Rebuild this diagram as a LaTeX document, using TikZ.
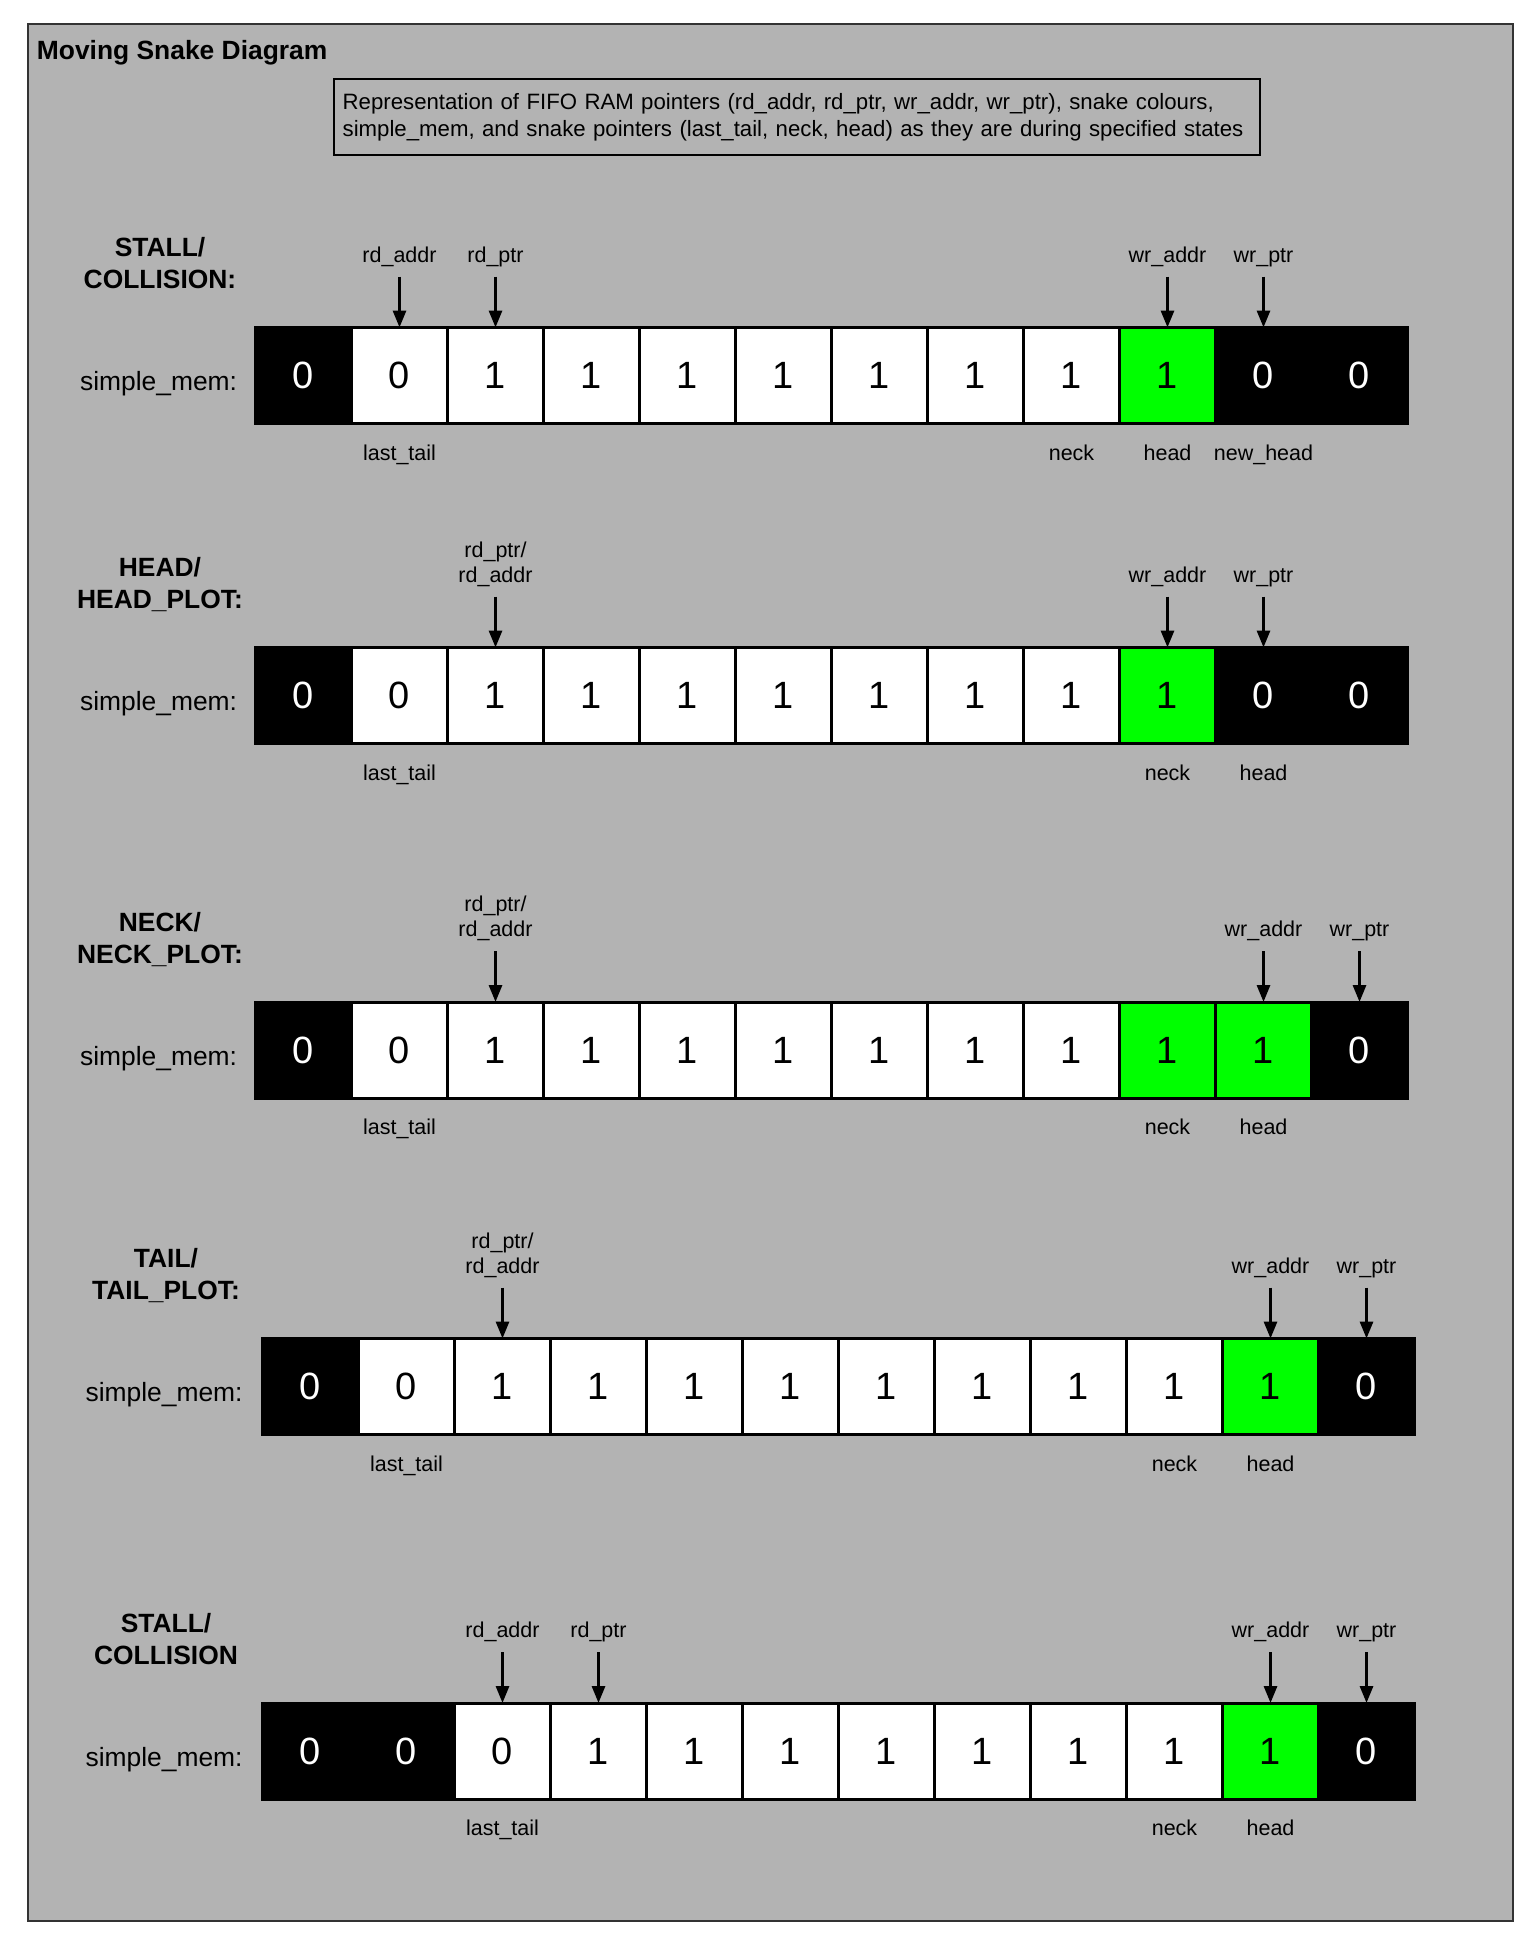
\documentclass[tikz,border=0pt]{standalone}
\usepackage{fontspec}
\setmainfont{Liberation Sans}
\usetikzlibrary{positioning, arrows.meta}

\definecolor{panelgray}{HTML}{B3B3B3}
\definecolor{snakegreen}{HTML}{00FF00}

\tikzset{
  cell/.style={draw=black, line width=1.5pt, minimum width=48pt, minimum height=48pt,
               inner sep=0pt, outer sep=0pt, font=\fontsize{19}{22}\selectfont},
  memfree/.style={cell, fill=black, text=white},
  memused/.style={cell, fill=white},
  memsnake/.style={cell, fill=snakegreen},
  ptrlbl/.style={font=\fontsize{10.75}{12.5}\selectfont, align=center,
                 inner xsep=0pt, inner ysep=5pt, outer sep=0pt},
  snakelbl/.style={font=\fontsize{10.75}{12.5}\selectfont,
                   inner xsep=0pt, inner ysep=5pt, outer sep=0pt},
  statename/.style={font=\bfseries\fontsize{13.2}{16.15}\selectfont, align=center,
                    inner sep=0pt, anchor=north},
  memname/.style={font=\fontsize{13.2}{16}\selectfont, inner sep=0pt, anchor=base east},
  ptrarrow/.style={-{Triangle[length=8.5pt, width=6.5pt]}, line width=1.5pt},
}

\begin{document}
\begin{tikzpicture}[x=0.5pt, y=-0.5pt]
\useasboundingbox (0, 0) rectangle (1534, 1959);

        % Panel, title and note
        \draw[black!80, fill=panelgray, line width=1pt] (28, 24) rectangle (1513, 1921);
        \node[font=\bfseries\fontsize{13.2}{16}\selectfont, inner sep=0pt, anchor=base west]
            at (36.5, 59.5) (title) {Moving Snake Diagram};
        \node[draw=black, line width=1pt, font=\fontsize{11.1}{13.85}\selectfont,
              minimum width=462.7pt, minimum height=37.85pt, text width=454.3pt,
              inner xsep=4.2pt, align=left] at (797, 117.2) (info)
            {\mbox{Representation of FIFO RAM pointers (rd\_addr, rd\_ptr, wr\_addr, wr\_ptr), snake colours,}\\
             \mbox{simple\_mem, and snake pointers (last\_tail, neck, head) as they are during specified states}};

        % STALL/COLLISION:
        \node[statename] at (160, 237)       (1state) {STALL/\\COLLISION:};
        \node[memname] at (237.5, 390.5)     (1mem)   {simple\_mem:};
        \node[memfree]  at (303.5, 375.5)    (1a)     {0};
        \node[memused]  at (399.5, 375.5)    (1b)     {0};
        \node[memused]  at (495.5, 375.5)    (1c)     {1};
        \node[memused]  at (591.5, 375.5)    (1d)     {1};
        \node[memused]  at (687.5, 375.5)    (1e)     {1};
        \node[memused]  at (783.5, 375.5)    (1f)     {1};
        \node[memused]  at (879.5, 375.5)    (1g)     {1};
        \node[memused]  at (975.5, 375.5)    (1h)     {1};
        \node[memused]  at (1071.5, 375.5)   (1i)     {1};
        \node[memsnake] at (1167.5, 375.5)   (1j)     {1};
        \node[memfree]  at (1263.5, 375.5)   (1k)     {0};
        \node[memfree]  at (1359.5, 375.5)   (1l)     {0};
        \node[ptrlbl, above=25.5pt of 1b]    (1rda)   {rd\_addr};
        \node[ptrlbl, above=25.5pt of 1c]    (1rdp)   {rd\_ptr};
        \node[ptrlbl, above=25.5pt of 1j]    (1wra)   {wr\_addr};
        \node[ptrlbl, above=25.5pt of 1k]    (1wrp)   {wr\_ptr};
        \node[snakelbl, below=5.5pt of 1b]   (1tail)  {last\_tail};
        \node[snakelbl, below=5.5pt of 1i]   (1neck)  {neck};
        \node[snakelbl, below=5.5pt of 1j]   (1head)  {head};
        \node[snakelbl, below=5.5pt of 1k]   (1new)   {new\_head};
\draw[ptrarrow]  (1rda) -- (1b);
\draw[ptrarrow]  (1rdp) -- (1c);
\draw[ptrarrow]  (1wra) -- (1j);
\draw[ptrarrow]  (1wrp) -- (1k);

        % HEAD/HEAD_PLOT:
        \node[statename] at (160, 557)       (2state) {HEAD/\\HEAD\_PLOT:};
        \node[memname] at (237.5, 710.5)     (2mem)   {simple\_mem:};
        \node[memfree]  at (303.5, 695.5)    (2a)     {0};
        \node[memused]  at (399.5, 695.5)    (2b)     {0};
        \node[memused]  at (495.5, 695.5)    (2c)     {1};
        \node[memused]  at (591.5, 695.5)    (2d)     {1};
        \node[memused]  at (687.5, 695.5)    (2e)     {1};
        \node[memused]  at (783.5, 695.5)    (2f)     {1};
        \node[memused]  at (879.5, 695.5)    (2g)     {1};
        \node[memused]  at (975.5, 695.5)    (2h)     {1};
        \node[memused]  at (1071.5, 695.5)   (2i)     {1};
        \node[memsnake] at (1167.5, 695.5)   (2j)     {1};
        \node[memfree]  at (1263.5, 695.5)   (2k)     {0};
        \node[memfree]  at (1359.5, 695.5)   (2l)     {0};
        \node[ptrlbl, above=25.5pt of 2c]    (2rd)    {rd\_ptr/\\rd\_addr};
        \node[ptrlbl, above=25.5pt of 2j]    (2wra)   {wr\_addr};
        \node[ptrlbl, above=25.5pt of 2k]    (2wrp)   {wr\_ptr};
        \node[snakelbl, below=5.5pt of 2b]   (2tail)  {last\_tail};
        \node[snakelbl, below=5.5pt of 2j]   (2neck)  {neck};
        \node[snakelbl, below=5.5pt of 2k]   (2head)  {head};
\draw[ptrarrow]  (2rd) -- (2c);
\draw[ptrarrow]  (2wra) -- (2j);
\draw[ptrarrow]  (2wrp) -- (2k);

        % NECK/NECK_PLOT:
        \node[statename] at (160, 911.5)     (3state) {NECK/\\NECK\_PLOT:};
        \node[memname] at (237.5, 1065)      (3mem)   {simple\_mem:};
        \node[memfree]  at (303.5, 1050)     (3a)     {0};
        \node[memused]  at (399.5, 1050)     (3b)     {0};
        \node[memused]  at (495.5, 1050)     (3c)     {1};
        \node[memused]  at (591.5, 1050)     (3d)     {1};
        \node[memused]  at (687.5, 1050)     (3e)     {1};
        \node[memused]  at (783.5, 1050)     (3f)     {1};
        \node[memused]  at (879.5, 1050)     (3g)     {1};
        \node[memused]  at (975.5, 1050)     (3h)     {1};
        \node[memused]  at (1071.5, 1050)    (3i)     {1};
        \node[memsnake] at (1167.5, 1050)    (3j)     {1};
        \node[memsnake] at (1263.5, 1050)    (3k)     {1};
        \node[memfree]  at (1359.5, 1050)    (3l)     {0};
        \node[ptrlbl, above=25.5pt of 3c]    (3rd)    {rd\_ptr/\\rd\_addr};
        \node[ptrlbl, above=25.5pt of 3k]    (3wra)   {wr\_addr};
        \node[ptrlbl, above=25.5pt of 3l]    (3wrp)   {wr\_ptr};
        \node[snakelbl, below=5.5pt of 3b]   (3tail)  {last\_tail};
        \node[snakelbl, below=5.5pt of 3j]   (3neck)  {neck};
        \node[snakelbl, below=5.5pt of 3k]   (3head)  {head};
\draw[ptrarrow]  (3rd) -- (3c);
\draw[ptrarrow]  (3wra) -- (3k);
\draw[ptrarrow]  (3wrp) -- (3l);

        % TAIL/TAIL_PLOT:
        \node[statename] at (166, 1248)      (4state) {TAIL/\\TAIL\_PLOT:};
        \node[memname] at (243, 1401.5)      (4mem)   {simple\_mem:};
        \node[memfree]  at (310.5, 1386.5)   (4a)     {0};
        \node[memused]  at (406.5, 1386.5)   (4b)     {0};
        \node[memused]  at (502.5, 1386.5)   (4c)     {1};
        \node[memused]  at (598.5, 1386.5)   (4d)     {1};
        \node[memused]  at (694.5, 1386.5)   (4e)     {1};
        \node[memused]  at (790.5, 1386.5)   (4f)     {1};
        \node[memused]  at (886.5, 1386.5)   (4g)     {1};
        \node[memused]  at (982.5, 1386.5)   (4h)     {1};
        \node[memused]  at (1078.5, 1386.5)  (4i)     {1};
        \node[memused]  at (1174.5, 1386.5)  (4j)     {1};
        \node[memsnake] at (1270.5, 1386.5)  (4k)     {1};
        \node[memfree]  at (1366.5, 1386.5)  (4l)     {0};
        \node[ptrlbl, above=25.5pt of 4c]    (4rd)    {rd\_ptr/\\rd\_addr};
        \node[ptrlbl, above=25.5pt of 4k]    (4wra)   {wr\_addr};
        \node[ptrlbl, above=25.5pt of 4l]    (4wrp)   {wr\_ptr};
        \node[snakelbl, below=5.5pt of 4b]   (4tail)  {last\_tail};
        \node[snakelbl, below=5.5pt of 4j]   (4neck)  {neck};
        \node[snakelbl, below=5.5pt of 4k]   (4head)  {head};
\draw[ptrarrow]  (4rd) -- (4c);
\draw[ptrarrow]  (4wra) -- (4k);
\draw[ptrarrow]  (4wrp) -- (4l);

        % STALL/COLLISION (after tail moved)
        \node[statename] at (166, 1612.5)    (5state) {STALL/\\COLLISION};
        \node[memname] at (243, 1766)        (5mem)   {simple\_mem:};
        \node[memfree]  at (310.5, 1751)     (5a)     {0};
        \node[memfree]  at (406.5, 1751)     (5b)     {0};
        \node[memused]  at (502.5, 1751)     (5c)     {0};
        \node[memused]  at (598.5, 1751)     (5d)     {1};
        \node[memused]  at (694.5, 1751)     (5e)     {1};
        \node[memused]  at (790.5, 1751)     (5f)     {1};
        \node[memused]  at (886.5, 1751)     (5g)     {1};
        \node[memused]  at (982.5, 1751)     (5h)     {1};
        \node[memused]  at (1078.5, 1751)    (5i)     {1};
        \node[memused]  at (1174.5, 1751)    (5j)     {1};
        \node[memsnake] at (1270.5, 1751)    (5k)     {1};
        \node[memfree]  at (1366.5, 1751)    (5l)     {0};
        \node[ptrlbl, above=25.5pt of 5c]    (5rda)   {rd\_addr};
        \node[ptrlbl, above=25.5pt of 5d]    (5rdp)   {rd\_ptr};
        \node[ptrlbl, above=25.5pt of 5k]    (5wra)   {wr\_addr};
        \node[ptrlbl, above=25.5pt of 5l]    (5wrp)   {wr\_ptr};
        \node[snakelbl, below=5.5pt of 5c]   (5tail)  {last\_tail};
        \node[snakelbl, below=5.5pt of 5j]   (5neck)  {neck};
        \node[snakelbl, below=5.5pt of 5k]   (5head)  {head};
\draw[ptrarrow]  (5rda) -- (5c);
\draw[ptrarrow]  (5rdp) -- (5d);
\draw[ptrarrow]  (5wra) -- (5k);
\draw[ptrarrow]  (5wrp) -- (5l);
\end{tikzpicture}
\end{document}
